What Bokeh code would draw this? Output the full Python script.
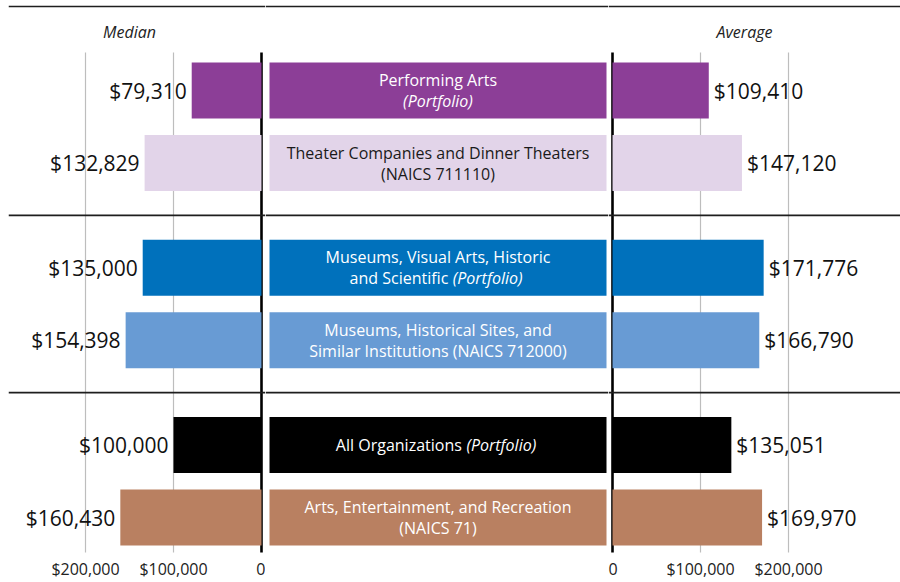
from bokeh.plotting import figure
from bokeh.layouts import row
from bokeh.models import Range1d, Span, FixedTicker, ColumnDataSource, Grid
from bokeh.core.properties import value
from bokeh.embed import file_html
from bokeh.resources import INLINE

# ---------------- data ----------------
categories = [
    "Performing Arts (Portfolio)",
    "Theater Companies and Dinner Theaters (NAICS 711110)",
    "Museums, Visual Arts, Historic and Scientific (Portfolio)",
    "Museums, Historical Sites, and Similar Institutions (NAICS 712000)",
    "All Organizations (Portfolio)",
    "Arts, Entertainment, and Recreation (NAICS 71)",
]
groups = [0, 0, 1, 1, 2, 2]
median = [79310, 132829, 135000, 154398, 100000, 160430]
average = [109410, 147120, 171776, 166790, 135051, 169970]
bar_colors = ["#8C3E97", "#E2D4E9", "#0071BC", "#689BD4", "#000000", "#B98061"]
label_colors = ["#ffffff", "#1a1a1a", "#ffffff", "#ffffff", "#ffffff", "#ffffff"]
# label lines: each line is a list of (text, italic)
center_lines = [
    [[("Performing Arts", 0)], [("(Portfolio)", 1)]],
    [[("Theater Companies and Dinner Theaters", 0)], [("(NAICS 711110)", 0)]],
    [[("Museums, Visual Arts, Historic", 0)], [("and Scientific ", 0), ("(Portfolio)", 1)]],
    [[("Museums, Historical Sites, and", 0)], [("Similar Institutions (NAICS 712000)", 0)]],
    [[("All Organizations ", 0), ("(Portfolio)", 1)]],
    [[("Arts, Entertainment, and Recreation", 0)], [("(NAICS 71)", 0)]],
]
ticks = [0, 100000, 200000]
tick_labels = ["0", "$100,000", "$200,000"]
grid_ticks = [100000, 200000]
headers = ["Median", "Average"]
header_value = 150000

# ---------------- layout constants ----------------
FONT = "Open Sans"
FH = 552
PXU = 72.6          # px per row unit
GAP = 0.441         # extra space between groups (row units)
BAR_H = 56 / PXU
pos = [i + g * GAP for i, g in enumerate(groups)]
y_top = pos[0] - 90 / PXU
y_bot = y_top + FH / PXU
grid_top = pos[0] - 38 / PXU
rule_y = pos[0] - 84 / PXU
header_y = pos[0] - 59 / PXU
seps = [(pos[2 * k + 1] + pos[2 * k + 2]) / 2 for k in range(2)]

PX_PER_100K = 88.0
def dollars(px):
    return px / PX_PER_100K * 100000

LEFT_W, CENTER_W, RIGHT_W = 257, 343, 292
left_zero_px = 253
right_zero_px = 4

yr = Range1d(start=y_bot, end=y_top)

# approximate Open Sans advance widths (per 1000 em)
OSW = {' ': 260, '(': 296, ')': 296, ',': 245, '.': 266,
       'A': 633, 'B': 647, 'C': 631, 'D': 729, 'E': 556, 'F': 516, 'G': 728, 'H': 738, 'I': 279,
       'J': 267, 'K': 614, 'L': 519, 'M': 903, 'N': 754, 'O': 779, 'P': 602, 'Q': 779, 'R': 618,
       'S': 549, 'T': 553, 'U': 729, 'V': 592, 'W': 929, 'X': 571, 'Y': 548, 'Z': 560,
       'a': 556, 'b': 613, 'c': 476, 'd': 613, 'e': 561, 'f': 336, 'g': 544, 'h': 615, 'i': 258,
       'j': 258, 'k': 539, 'l': 258, 'm': 935, 'n': 615, 'o': 601, 'p': 613, 'q': 613, 'r': 408,
       's': 477, 't': 353, 'u': 615, 'v': 500, 'w': 772, 'x': 524, 'y': 500, 'z': 468}

def text_w(s, size):
    return sum(OSW.get(c, 572) for c in s) / 1000 * size


def base_fig(fw, xr, left_border=0):
    p = figure(frame_width=fw, frame_height=FH, x_range=xr, y_range=yr,
               output_backend="svg", toolbar_location=None, min_border=0,
               min_border_left=left_border,
               outline_line_color=None, y_axis_location=None)
    p.xgrid.visible = False
    p.ygrid.visible = False
    p.background_fill_color = "white"
    p.border_fill_color = "white"
    for loc in [rule_y] + seps:
        p.add_layout(Span(location=loc, dimension="width", line_color="#1e1e1e", line_width=1.6))
    return p


def style_axis(p):
    ax = p.xaxis[0]
    ax.ticker = FixedTicker(ticks=ticks)
    ax.major_label_overrides = {t: l for t, l in zip(ticks, tick_labels)}
    ax.axis_line_color = None
    ax.major_tick_line_color = None
    ax.minor_tick_line_color = None
    ax.major_tick_out = 0
    ax.major_tick_in = 0
    ax.major_label_standoff = 5
    ax.major_label_text_font = FONT
    ax.major_label_text_font_size = "16px"
    ax.major_label_text_color = "#222222"


def add_grids(p):
    p.add_layout(Grid(dimension=0, ticker=FixedTicker(ticks=grid_ticks), grid_line_color="#bdbdbd",
                      grid_line_width=1.2, cross_bounds=(grid_top, y_bot + 1)))
    p.add_layout(Grid(dimension=0, ticker=FixedTicker(ticks=[0]), grid_line_color="#000000",
                      grid_line_width=2.6, cross_bounds=(grid_top, y_bot + 1)))


# ---------------- left (median) ----------------
left = base_fig(LEFT_W, Range1d(start=dollars(left_zero_px), end=-dollars(LEFT_W - left_zero_px)),
                left_border=8)
style_axis(left)
add_grids(left)
lsrc = ColumnDataSource(dict(y=pos, v=median, c=bar_colors, t=[f"${v:,}" for v in median]))
left.hbar(y="y", left=0, right="v", height=BAR_H, fill_color="c", line_color=None, source=lsrc)
left.text(x="v", y="y", text="t", source=lsrc, text_align="right", text_baseline="middle",
          x_offset=-5, text_font=value(FONT), text_font_size="21px", text_color="#111111")
left.text(x=[header_value], y=[header_y], text=[headers[0]], text_align="center", text_baseline="middle",
          text_font=value(FONT), text_font_size="16px", text_font_style="italic", text_color="#222222")

# ---------------- right (average) ----------------
right = base_fig(RIGHT_W, Range1d(start=-dollars(right_zero_px), end=dollars(RIGHT_W - right_zero_px)))
style_axis(right)
add_grids(right)
rsrc = ColumnDataSource(dict(y=pos, v=average, c=bar_colors, t=[f"${v:,}" for v in average]))
right.hbar(y="y", left=0, right="v", height=BAR_H, fill_color="c", line_color=None, source=rsrc)
right.text(x="v", y="y", text="t", source=rsrc, text_align="left", text_baseline="middle",
           x_offset=5, text_font=value(FONT), text_font_size="21px", text_color="#111111")
right.text(x=[header_value], y=[header_y], text=[headers[1]], text_align="center", text_baseline="middle",
           text_font=value(FONT), text_font_size="16px", text_font_style="italic", text_color="#222222")

# ---------------- center (labels) ----------------
center = base_fig(CENTER_W, Range1d(start=-4 / 337, end=1 + 2 / 337))
center.xaxis.visible = False
center.hbar(y=pos, left=0, right=1, height=BAR_H, fill_color=bar_colors, line_color=None)

LSIZE = 16
LINE_SP = 21
recs = {}
for i, lines in enumerate(center_lines):
    n = len(lines)
    for li, segs in enumerate(lines):
        yo = (li - (n - 1) / 2) * LINE_SP
        if len(segs) == 1:
            key = ("center", segs[0][1])
            recs.setdefault(key, []).append((pos[i], segs[0][0], 0, yo, label_colors[i]))
        else:
            W = sum(text_w(s, LSIZE) for s, _ in segs)
            cum = -W / 2
            for s, it in segs:
                recs.setdefault(("left", it), []).append((pos[i], s, cum, yo, label_colors[i]))
                cum += text_w(s, LSIZE)

for (align, it), rows_ in recs.items():
    src = ColumnDataSource(dict(x=[0.5] * len(rows_), y=[r[0] for r in rows_], t=[r[1] for r in rows_],
                                xo=[r[2] for r in rows_], yo=[r[3] for r in rows_], c=[r[4] for r in rows_]))
    center.text(x="x", y="y", text="t", x_offset="xo", y_offset="yo", text_color="c", source=src,
                text_align=align, text_baseline="middle", text_font=value(FONT),
                text_font_size=f"{LSIZE}px", text_font_style="italic" if it else "normal")

layout = row(left, center, right)
open("out.html", "w").write(file_html(layout, INLINE))
